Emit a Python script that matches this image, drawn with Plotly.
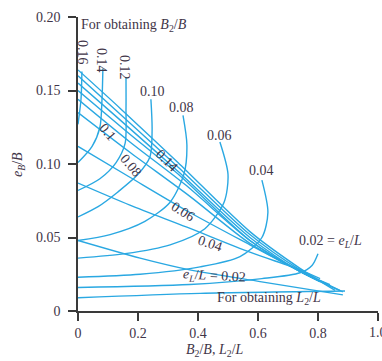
import plotly.graph_objects as go

# ---------------- data ----------------
# Curves "for obtaining B2/B" (one per e_L/L value): x = B2/B, y = e_B/B
b_curve_names = ["0.16", "0.14", "0.12", "0.10", "0.08", "0.06", "0.04", "0.02"]
b016_x = [0.013, 0.010, 0.0]
b016_y = [0.163, 0.144, 0.127]
b014_x = [0.083, 0.080, 0.073, 0.047, 0.0]
b014_y = [0.165, 0.144, 0.125, 0.112, 0.101]
b012_x = [0.160, 0.160, 0.157, 0.127, 0.073, 0.0]
b012_y = [0.159, 0.137, 0.114, 0.101, 0.090, 0.082]
b010_x = [0.243, 0.247, 0.240, 0.200, 0.133, 0.067, 0.0]
b010_y = [0.144, 0.123, 0.105, 0.093, 0.081, 0.071, 0.064]
b008_x = [0.350, 0.363, 0.353, 0.307, 0.223, 0.107, 0.0]
b008_y = [0.133, 0.113, 0.093, 0.074, 0.061, 0.052, 0.048]
b006_x = [0.473, 0.500, 0.487, 0.423, 0.307, 0.157, 0.0]
b006_y = [0.115, 0.093, 0.074, 0.056, 0.045, 0.039, 0.036]
b004_x = [0.613, 0.633, 0.613, 0.540, 0.407, 0.207, 0.0]
b004_y = [0.089, 0.067, 0.050, 0.037, 0.030, 0.025, 0.023]
b002_x = [0.800, 0.780, 0.740, 0.613, 0.373, 0.0]
b002_y = [0.039, 0.031, 0.026, 0.022, 0.018, 0.016]

# Curves "for obtaining L2/L": x = L2/L, y = e_B/B
l1_x = [0.0, 0.140, 0.333, 0.573, 0.740, 0.857]
l1_y = [0.164, 0.138, 0.101, 0.054, 0.029, 0.014]
l2_x = [0.0, 0.140, 0.333, 0.573, 0.740, 0.873]
l2_y = [0.160, 0.134, 0.098, 0.052, 0.028, 0.014]
l3_x = [0.0, 0.140, 0.333, 0.573, 0.740, 0.883]
l3_y = [0.155, 0.130, 0.095, 0.050, 0.027, 0.013]
l4_x = [0.0, 0.157, 0.340, 0.573, 0.740, 0.840]
l4_y = [0.150, 0.123, 0.092, 0.048, 0.027, 0.018]
l5_x = [0.0, 0.173, 0.357, 0.573, 0.740, 0.823]
l5_y = [0.144, 0.115, 0.086, 0.048, 0.027, 0.019]
l6_x = [0.0, 0.173, 0.373, 0.573, 0.740, 0.807]
l6_y = [0.135, 0.108, 0.078, 0.046, 0.027, 0.020]
l7_x = [0.0, 0.173, 0.373, 0.573, 0.740, 0.807]
l7_y = [0.112, 0.091, 0.067, 0.045, 0.027, 0.020]
l8_x = [0.0, 0.173, 0.363, 0.573, 0.740, 0.807]
l8_y = [0.087, 0.072, 0.057, 0.040, 0.028, 0.022]
l9_x = [0.0, 0.207, 0.373, 0.607, 0.883]
l9_y = [0.048, 0.036, 0.028, 0.020, 0.011]
l10_x = [0.0, 0.407, 0.890]
l10_y = [0.009, 0.012, 0.0136]

x_ticks = [0, 0.2, 0.4, 0.6, 0.8, 1.0]
x_tick_text = ["0", "0.2", "0.4", "0.6", "0.8", ""]
x_last_tick_text = "1.0"
y_ticks = [0, 0.05, 0.10, 0.15, 0.20]
y_tick_text = ["0", "0.05", "0.10", "0.15", "0.20"]

# ---------------- styling ----------------
W, H = 382, 361
ML, MR, MT, MB = 78, 4, 17, 50
LINE = "#2aa8e2"
TXT = "#3f3548"
FONT = "Liberation Serif"
FS = 14

fig = go.Figure()
curves = [
    (b016_x, b016_y), (b014_x, b014_y), (b012_x, b012_y), (b010_x, b010_y),
    (b008_x, b008_y), (b006_x, b006_y), (b004_x, b004_y), (b002_x, b002_y),
    (l1_x, l1_y), (l2_x, l2_y), (l3_x, l3_y), (l4_x, l4_y), (l5_x, l5_y),
    (l6_x, l6_y), (l7_x, l7_y), (l8_x, l8_y), (l9_x, l9_y), (l10_x, l10_y),
]
for cx, cy in curves:
    fig.add_trace(go.Scatter(x=cx, y=cy, mode="lines",
                             line=dict(color=LINE, width=1.4, shape="spline", smoothing=0.8),
                             hoverinfo="skip", showlegend=False))

pw, ph = W - ML - MR, H - MT - MB

def px2d(px, py):
    return (px - ML) / pw * 1.0, (H - MB - py) / ph * 0.2

def label(px, py, text, angle=0, size=FS, xanchor="center"):
    x, y = px2d(px, py)
    fig.add_annotation(x=x, y=y, xref="x", yref="y", text=text, showarrow=False,
                       textangle=angle, xanchor=xanchor, yanchor="middle",
                       font=dict(family=FONT, size=size, color=TXT))

# top labels of B2/B curves
label(83, 52, "0.16", 90)
label(102, 60, "0.14", 90)
label(125, 67, "0.12", 90)
label(152, 91, "0.10")
label(181, 107, "0.08")
label(219, 135, "0.06")
label(261, 170, "0.04")
label(297, 241, "0.02 = <i>e<sub>L</sub></i>/<i>L</i>", 0, FS, "left")
# labels along L2/L curves
label(108, 132, "0.1", 50)
label(131, 165, "0.08", 50)
label(167, 160, "0.14", 45)
label(183, 211, "0.06", 32)
label(210, 243, "0.04", 18)
label(180, 276, "<i>e<sub>L</sub></i>/<i>L</i> = 0.02", 3, FS, "left")
# captions
label(79, 25, "For obtaining <i>B</i><sub>2</sub>/<i>B</i>", 0, FS, "left")
label(215, 298, "For obtaining <i>L</i><sub>2</sub>/<i>L</i>", 0, FS, "left")

# last x tick label (partly cut by the right edge, as in the original)
fig.add_annotation(x=x_ticks[-1], y=-(332 - (H - MB)) / ph, xref="x", yref="paper",
                   text=x_last_tick_text, showarrow=False, xanchor="center", yanchor="middle",
                   font=dict(family=FONT, size=FS, color=TXT))

# axis titles
fig.add_annotation(x=(18 - ML) / pw, y=(H - MB - 165) / ph, xref="paper", yref="paper",
                   text="<i>e<sub>B</sub></i>/<i>B</i>", showarrow=False, textangle=-90,
                   font=dict(family=FONT, size=FS, color=TXT), xanchor="center", yanchor="middle")
fig.add_annotation(x=(215 - ML) / pw, y=-(350 - (H - MB)) / ph, xref="paper", yref="paper",
                   text="<i>B</i><sub>2</sub>/<i>B</i>, <i>L</i><sub>2</sub>/<i>L</i>", showarrow=False,
                   font=dict(family=FONT, size=FS, color=TXT), xanchor="center", yanchor="middle")

axis_common = dict(showgrid=False, zeroline=False, showline=True, linecolor="#3a3a3a",
                   linewidth=1.6, ticks="outside", ticklen=8, tickwidth=1.6, tickcolor="#3a3a3a",
                   tickfont=dict(family=FONT, size=FS, color=TXT), fixedrange=True)
fig.update_xaxes(range=[0, 1.0], tickvals=x_ticks, ticktext=x_tick_text, **axis_common)
fig.update_yaxes(range=[0, 0.2], tickvals=y_ticks, ticktext=y_tick_text,
                 ticklabelstandoff=5, **axis_common)

fig.update_layout(width=W, height=H, margin=dict(l=ML, r=MR, t=MT, b=MB),
                  paper_bgcolor="white", plot_bgcolor="white")
fig.write_html("out.html", config={"displayModeBar": False},
               post_script="document.body.style.margin='0';")
